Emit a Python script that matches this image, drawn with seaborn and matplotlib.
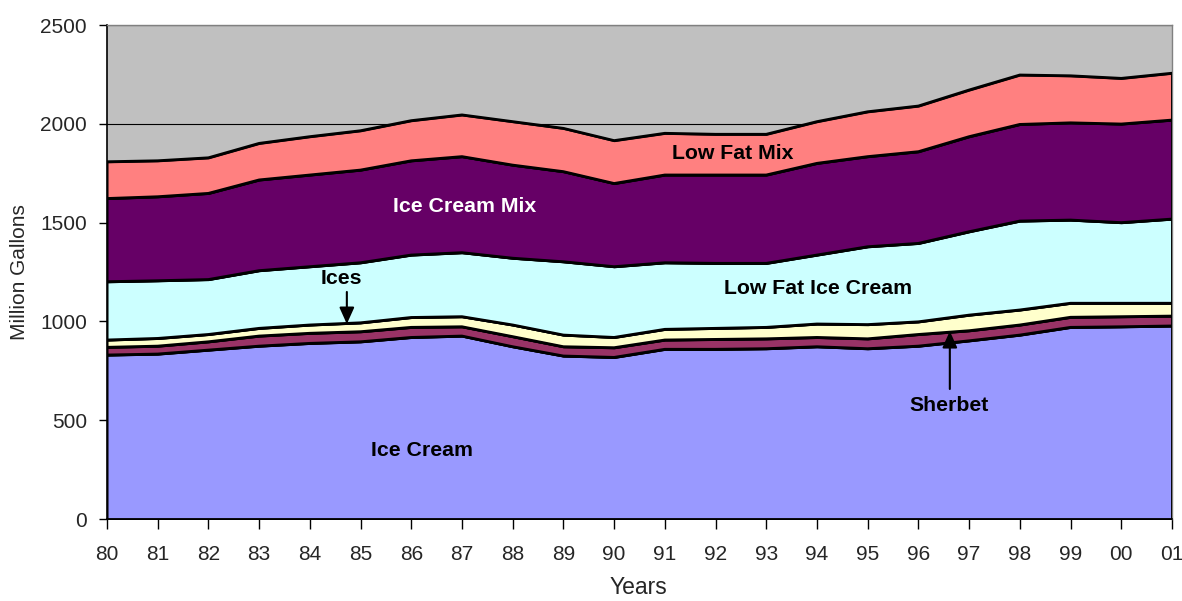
import numpy as np
import pandas as pd
import seaborn as sns
import matplotlib.pyplot as plt

years = ['80', '81', '82', '83', '84', '85', '86', '87', '88', '89', '90',
         '91', '92', '93', '94', '95', '96', '97', '98', '99', '00', '01']

# million gallons per product
ice_cream = [830, 835, 855, 875, 889, 897, 919, 926, 872, 825, 818,
             859, 859, 862, 872, 862, 875, 902, 931, 970, 973, 977]
sherbet = [39, 40, 42, 51, 51, 51, 51, 47, 51, 47, 49,
           47, 50, 50, 47, 50, 59, 51, 51, 51, 51, 50]
ices = [37, 39, 37, 39, 42, 45, 50, 51, 59, 59, 52,
        54, 56, 58, 68, 72, 64, 79, 76, 71, 68, 65]
low_fat_ice_cream = [295, 292, 278, 292, 295, 304, 316, 324, 338, 371, 358,
                     337, 329, 324, 349, 394, 397, 422, 450, 421, 408, 426]
ice_cream_mix = [421, 425, 436, 459, 464, 469, 477, 486, 471, 456, 421,
                 444, 447, 447, 464, 456, 464, 481, 489, 492, 499, 501]
low_fat_mix = [186, 182, 180, 185, 194, 199, 203, 211, 220, 219, 217,
               211, 206, 206, 211, 227, 231, 236, 250, 238, 231, 237]

series_names = ['Ice Cream', 'Sherbet', 'Ices', 'Low Fat Ice Cream',
                'Ice Cream Mix', 'Low Fat Mix']
series = [ice_cream, sherbet, ices, low_fat_ice_cream, ice_cream_mix, low_fat_mix]
colors = ['#9999FF', '#993366', '#FFFFCC', '#CCFFFF', '#660066', '#FF8080']

sns.set_style('white')
plt.rcParams['font.family'] = ['Liberation Sans', 'DejaVu Sans']

x = np.arange(len(years))
tops = np.cumsum(np.array(series), axis=0)

df = pd.DataFrame({'x': np.tile(x, len(series_names)),
                   'total': tops.ravel(),
                   'layer': np.repeat(series_names, len(years))})

fig = plt.figure(figsize=(11.82, 6.01), dpi=100)
ax = fig.add_axes([0.0905, 0.1364, 0.901, 0.8220])
ax.set_facecolor('#C0C0C0')

ax.stackplot(x, series, colors=colors, edgecolor='black', linewidth=1.5, zorder=2)
sns.lineplot(data=df, x='x', y='total', hue='layer', palette=['black'] * 6,
             linewidth=2, legend=False, ax=ax, zorder=3)
ax.vlines(x[-1], 0, tops[-1, -1], color='black', linewidth=2, zorder=3)

ax.set_xlim(x[0], x[-1])
ax.set_ylim(0, 2500)
ax.set_yticks([0, 500, 1000, 1500, 2000, 2500])
ax.set_xticks(x)
ax.set_xticklabels(years)
ax.yaxis.grid(True, color='black', linewidth=0.8)
ax.set_axisbelow(True)

for side in ['left', 'bottom']:
    ax.spines[side].set_color('black')
    ax.spines[side].set_linewidth(1.2)
for side in ['top', 'right']:
    ax.spines[side].set_color('#808080')
    ax.spines[side].set_linewidth(1)

ax.tick_params(axis='x', direction='out', length=7, width=1, pad=12,
               labelsize=15, bottom=True, color='black')
ax.tick_params(axis='y', direction='out', length=6, width=1, pad=8.5,
               labelsize=15, left=True, color='black')

ax.set_xlabel('Years', fontsize=16.5, va='baseline')
ax.xaxis.set_label_coords(0.4986, -0.151)
ax.set_ylabel('Million Gallons', fontsize=15, va='center')
ax.yaxis.set_label_coords(-0.0817, 0.5)

lab = dict(fontsize=15.3, fontweight='bold', ha='center', va='center', zorder=5)
ax.text(12.34, 1852, 'Low Fat Mix', color='black', **lab)
ax.text(7.06, 1579, 'Ice Cream Mix', color='white', **lab)
ax.text(4.63, 1215, 'Ices', color='black', **lab)
ax.text(14.02, 1169, 'Low Fat Ice Cream', color='black', **lab)
ax.text(6.21, 349, 'Ice Cream', color='black', **lab)
ax.text(16.60, 572, 'Sherbet', color='black', **lab)

arrow = dict(arrowstyle='-|>,head_length=1.0,head_width=0.45', color='black',
             linewidth=1.5, shrinkA=0, shrinkB=0)
ax.annotate('', xy=(4.73, 987), xytext=(4.73, 1149), arrowprops=arrow, zorder=5)
ax.annotate('', xy=(16.62, 951), xytext=(16.62, 658), arrowprops=arrow, zorder=5)

fig.savefig('out.png', dpi=100)
